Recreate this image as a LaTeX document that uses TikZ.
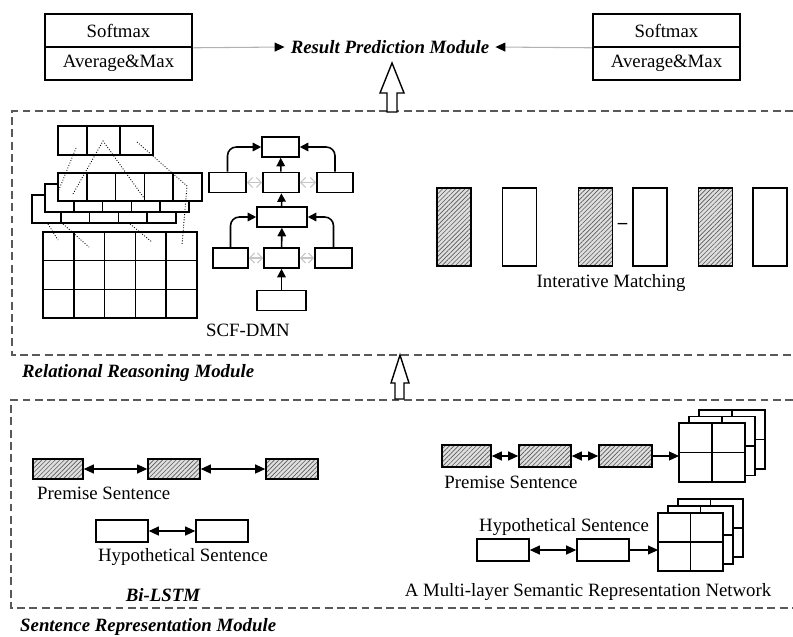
\documentclass[tikz,border=0pt]{standalone}
\usepackage{fontspec}
\setmainfont{Liberation Serif}
\usetikzlibrary{arrows.meta, patterns.meta}

\begin{document}
\begin{tikzpicture}[x=0.02cm, y=-0.02cm, font=\fontsize{10.7}{12.8}\selectfont]
            \tikzset{box/.style = {draw, line width=0.9pt, inner sep=0pt, minimum height=0.4cm, minimum width=#1}}
            \tikzset{hatch/.style = {preaction={fill=gray!25}, pattern={Lines[angle=45, distance=1.8pt, line width=0.35pt]}, pattern color=gray!70!black}}
            \tikzset{frame/.style = {gray!70!black, line width=0.6pt, dash pattern=on 4.5pt off 2.5pt}}
            \tikzset{hollow/.style = {draw, fill=white, line width=0.8pt}}
            \tikzset{tarr/.style = {line width=0.9pt, -{Triangle[length=1.7mm, width=1.7mm]}}}
            \tikzset{sarr/.style = {gray!45, line width=0.6pt, {Straight Barb[length=1mm]}-{Straight Barb[length=1mm]}}}
            \tikzset{dbl/.style = {line width=0.6pt, {Triangle[length=2mm, width=1.8mm]}-{Triangle[length=2mm, width=1.8mm]}}}
            \tikzset{sgl/.style = {line width=0.6pt, -{Triangle[length=2mm, width=1.8mm]}}}
            \tikzset{modlabel/.style = {font=\fontsize{10.7}{12.8}\selectfont\bfseries\itshape}}

            \useasboundingbox (0,0) rectangle (793,636);

            % result prediction
            \node[box=2.94cm, minimum height=0.66cm] (sm1) at (118.5,30.5) {Softmax};
            \node[box=2.94cm, minimum height=0.66cm] (am1) at (118.5,63.5) {Average\&Max};
            \node[box=2.94cm, minimum height=0.66cm] (sm2) at (666.5,30.5) {Softmax};
            \node[box=2.94cm, minimum height=0.66cm] (am2) at (666.5,63.5) {Average\&Max};
            \node[modlabel] (res) at (390,47) {Result Prediction Module};

            \draw[gray!60, line width=0.6pt, -{Triangle[length=2mm, width=1.8mm, color=black]}] (sm1.south east) -- (res.west);
            \draw[gray!60, line width=0.6pt, -{Triangle[length=2mm, width=1.8mm, color=black]}] (sm2.south west) -- (res.east);

            % module frames
            \draw[frame] (793,111) -| (12,355) -- (793,355);
            \draw[frame] (793,400) -| (11,608) -- (793,608);
            \node[modlabel, anchor=west] (rrm) at (16,373) {Relational Reasoning Module};
            \node[modlabel, anchor=west] (srm) at (14,627) {Sentence Representation Module};

            \draw[hollow] (387,112) -- (387,93) -- (380,93) -- (392,63) -- (404,93) -- (397,93) -- (397,112) -- cycle;
            \draw[hollow] (395,399) -- (395,383) -- (391,383) -- (400,355) -- (409,383) -- (404,383) -- (404,399) -- cycle;

            % SCF-DMN feature maps
            \draw[line width=0.9pt] (58,126) rectangle (153,155) (87,126) -- (87,155) (120,126) -- (120,155);
            \foreach \k in {2,1,0} {
                \filldraw[fill=white, line width=0.9pt] (58-13*\k,173+11*\k) rectangle ++(144,28);
                \foreach \i in {1,...,4}
                    \draw[line width=0.9pt] (58-13*\k+28.8*\i,173+11*\k) -- ++(0,28);
            }
            \draw[line width=0.9pt] (43,232) rectangle (197,318);
            \foreach \i in {1,...,4}
                \draw[line width=0.9pt] (43+30.8*\i,232) -- (43+30.8*\i,318);
            \foreach \j in {1,2}
                \draw[line width=0.9pt] (43,232+28.7*\j) -- (197,232+28.7*\j);

            \draw[densely dotted, line width=0.5pt] (76,148) -- (58,192);
            \draw[densely dotted, line width=0.5pt] (73,194) -- (103,141) -- (144,198);
            \draw[densely dotted, line width=0.5pt] (137,142) -- (187,186) -- (182,245);
            \draw[densely dotted, line width=0.5pt] (48,224) -- (58,240);
            \draw[densely dotted, line width=0.5pt] (63,224) -- (89,247);
            \draw[densely dotted, line width=0.5pt] (130,224) -- (152,242);

            % SCF-DMN tree
            \node[box=0.74cm] (t1) at (280.5,147) {};
            \node[box=0.74cm] (l2) at (227.5,182.5) {};
            \node[box=0.72cm] (m2) at (281,182.5) {};
            \node[box=0.72cm] (r2) at (335,182.5) {};
            \node[box=1.0cm] (c3) at (282,217) {};
            \node[box=0.7cm] (l4) at (230.5,258) {};
            \node[box=0.7cm] (m4) at (281.5,258) {};
            \node[box=0.74cm] (r4) at (333.5,258) {};
            \node[box=0.98cm] (b5) at (281.5,300.5) {};

            \draw[tarr] (b5) -- (m4);
            \draw[tarr] (m4) -- (c3);
            \draw[tarr] (c3) -- (m2);
            \draw[tarr] (m2) -- (t1);
            \draw[tarr, rounded corners=5pt] (l4.north) |- (c3.west);
            \draw[tarr, rounded corners=5pt] (r4.north) |- (c3.east);
            \draw[tarr, rounded corners=5pt] (l2.north) |- (t1.west);
            \draw[tarr, rounded corners=5pt] (r2.north) |- (t1.east);
            \draw[sarr] (l2) -- (m2);
            \draw[sarr] (m2) -- (r2);
            \draw[sarr] (l4) -- (m4);
            \draw[sarr] (m4) -- (r4);

            \node (scf) at (248,330) {SCF-DMN};

            % interative matching
            \node[box=0.68cm, minimum height=1.56cm, hatch] (im1) at (454,227) {};
            \node[box=0.68cm, minimum height=1.56cm] (im2) at (519.5,227) {};
            \node[box=0.68cm, minimum height=1.56cm, hatch] (im3) at (595.5,227) {};
            \node[box=0.68cm, minimum height=1.56cm] (im4) at (650,227) {};
            \node[box=0.68cm, minimum height=1.56cm, hatch] (im5) at (715.5,227) {};
            \node[box=0.68cm, minimum height=1.56cm] (im6) at (770,227) {};
            \node[font=\fontsize{10.7}{12.8}\selectfont\bfseries] (minus) at (622.5,226) {--};
            \node (imt) at (611,283) {Interative Matching};

            % bi-lstm
            \node[box=1.0cm, hatch] (p1) at (58,469) {};
            \node[box=1.04cm, hatch] (p2) at (174,469) {};
            \node[box=1.04cm, hatch] (p3) at (292,469) {};
            \node[box=1.04cm, minimum height=0.44cm] (h1) at (122,531) {};
            \node[box=1.04cm, minimum height=0.44cm] (h2) at (222,531) {};
            \draw[dbl] (p1) -- (p2);
            \draw[dbl] (p2) -- (p3);
            \draw[dbl] (h1) -- (h2);
            \node[anchor=west] (pst) at (31,493) {Premise Sentence};
            \node (hst) at (183,557) {Hypothetical Sentence};
            \node[modlabel] (bil) at (163,595) {Bi-LSTM};

            % multi-layer semantic representation network
            \node[box=0.98cm, minimum height=0.44cm, hatch] (q1) at (466.5,456) {};
            \node[box=1.04cm, minimum height=0.44cm, hatch] (q2) at (545,456) {};
            \node[box=1.06cm, minimum height=0.44cm, hatch] (q3) at (625.5,456) {};
            \node[box=1.04cm, minimum height=0.44cm] (g1) at (503,550) {};
            \node[box=1.04cm, minimum height=0.44cm] (g2) at (603,550) {};

            \foreach \k in {2,1,0} {
                \filldraw[fill=white, line width=0.9pt] (679+10*\k,423-6.5*\k) rectangle ++(66,59);
                \draw[line width=0.9pt] (712+10*\k,423-6.5*\k) -- ++(0,59) (679+10*\k,452.5-6.5*\k) -- ++(66,0);
                \filldraw[fill=white, line width=0.9pt] (658+10*\k,513-7*\k) rectangle ++(65,58);
                \draw[line width=0.9pt] (690.5+10*\k,513-7*\k) -- ++(0,58) (658+10*\k,542-7*\k) -- ++(65,0);
            }
            \coordinate (pgrid) at (679,456);
            \coordinate (hgrid) at (658,550);

            \draw[dbl] (q1) -- (q2);
            \draw[dbl] (q2) -- (q3);
            \draw[sgl] (q3) -- (pgrid);
            \draw[dbl] (g1) -- (g2);
            \draw[sgl] (g2) -- (hgrid);

            \node (pst2) at (511,482) {Premise Sentence};
            \node (hst2) at (564,527) {Hypothetical Sentence};
            \node (mls) at (588,592) {A Multi-layer Semantic Representation Network};

        \end{tikzpicture}
\end{document}
